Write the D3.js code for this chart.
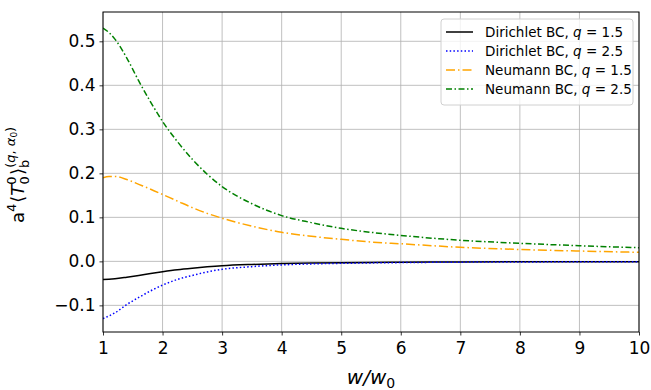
<!DOCTYPE html>
<html><head><meta charset="utf-8">
<script src="https://cdn.jsdelivr.net/npm/d3@7"></script>
<style>body{margin:0;background:#fff}svg{display:block}text{font-family:"DejaVu Sans",sans-serif}</style>
</head><body><svg id="c" width="651" height="390"></svg>
<script>
const xs = [1, 1.1, 1.2, 1.4, 1.6, 1.8, 2, 2.25, 2.5, 2.75, 3, 3.5, 4, 4.5, 5, 5.5, 6, 7, 8, 9, 10];
const dirichlet15 = [-0.041,-0.0405,-0.0395,-0.036,-0.032,-0.0275,-0.0235,-0.019,-0.0155,-0.0125,-0.010,-0.007,-0.005,-0.0038,-0.003,-0.0024,-0.002,-0.0014,-0.001,-0.0008,-0.0006];
const dirichlet25 = [-0.130,-0.124,-0.117,-0.098,-0.082,-0.067,-0.054,-0.041,-0.032,-0.024,-0.018,-0.012,-0.008,-0.0058,-0.0045,-0.0035,-0.0028,-0.0018,-0.0013,-0.001,-0.0008];
const neumann15 = [0.190,0.193,0.193,0.186,0.175,0.164,0.152,0.137,0.122,0.109,0.098,0.080,0.066,0.057,0.050,0.044,0.040,0.032,0.027,0.0235,0.0205];
const neumann25 = [0.530,0.520,0.505,0.462,0.410,0.362,0.318,0.272,0.232,0.198,0.170,0.131,0.104,0.088,0.075,0.066,0.059,0.048,0.041,0.0355,0.031];
const xTicks = [1,2,3,4,5,6,7,8,9,10];
const yTicks = [-0.1,0,0.1,0.2,0.3,0.4,0.5];
const seriesNames = ["Dirichlet BC", "Dirichlet BC", "Neumann BC", "Neumann BC"];
const seriesQ = ["1.5", "2.5", "1.5", "2.5"];
const seriesData = [dirichlet15, dirichlet25, neumann15, neumann25];
const colors = ["#000000", "#0000ff", "#ffa500", "#008000"];
const dashes = [null, "1.5,2.2", "9,3,1.5,3", "6,2.5,1.5,2.5"];

const svg = d3.select("#c");
const L=103, T=12, R=639, B=332;
const x = d3.scaleLinear().domain([1,10]).range([L,R]);
const y = d3.scaleLinear().domain([-0.1605,0.5666]).range([B,T]);

// grid
const g = svg.append("g");
g.selectAll(".gx").data(xTicks).enter().append("line")
 .attr("x1",d=>x(d)).attr("x2",d=>x(d)).attr("y1",T).attr("y2",B)
 .attr("stroke","#b0b0b0").attr("stroke-width",0.8);
g.selectAll(".gy").data(yTicks).enter().append("line")
 .attr("y1",d=>y(d)).attr("y2",d=>y(d)).attr("x1",L).attr("x2",R)
 .attr("stroke","#b0b0b0").attr("stroke-width",0.8);

// lines
const line = d3.line().x((d,i)=>x(xs[i])).y(d=>y(d)).curve(d3.curveMonotoneX);
svg.append("defs").append("clipPath").attr("id","clip").append("rect")
 .attr("x",L).attr("y",T).attr("width",R-L).attr("height",B-T);
seriesData.forEach((s,i)=>{
  svg.append("path").datum(s).attr("d",line).attr("fill","none")
   .attr("stroke",colors[i]).attr("stroke-width",1.5)
   .attr("stroke-dasharray",dashes[i]).attr("clip-path","url(#clip)");
});

// axes
const fmt = d=> d3.format(".1f")(d).replace("-","\u2212");
const xAxis = d3.axisBottom(x).tickValues(xTicks).tickSize(3.5).tickPadding(4).tickFormat(d3.format("d"));
const yAxis = d3.axisLeft(y).tickValues(yTicks).tickSize(3.5).tickPadding(4).tickFormat(fmt);
const ax = svg.append("g").attr("transform",`translate(0,${B})`).call(xAxis);
const ay = svg.append("g").attr("transform",`translate(${L},0)`).call(yAxis);
[ax,ay].forEach(a=>{
  a.select(".domain").remove();
  a.selectAll("line").attr("stroke","#000").attr("stroke-width",0.8);
  a.selectAll("text").attr("font-size",17).attr("font-family","DejaVu Sans").attr("fill","#000");
});
ax.selectAll("text").attr("dy","0.85em");
// frame
svg.append("rect").attr("x",L).attr("y",T).attr("width",R-L).attr("height",B-T)
 .attr("fill","none").attr("stroke","#000").attr("stroke-width",1);

// x label
const xl = svg.append("text").attr("x",(L+R)/2).attr("y",384).attr("text-anchor","middle").attr("font-size",20);
xl.append("tspan").attr("font-style","italic").text("w/w");
xl.append("tspan").attr("font-size",14).attr("dy",4).text("0");

// y label
const yl = svg.append("text").attr("transform","translate(24,223) rotate(-90)").attr("font-size",18);
yl.append("tspan").text("a");
yl.append("tspan").attr("font-size",13).attr("dy",-8).text("4");
yl.append("tspan").attr("dy",8).attr("dx",1).text("\u27E8");
yl.append("tspan").attr("font-style","italic").text("T");
yl.append("tspan").attr("font-size",13).attr("dy",-8).text("0");
yl.append("tspan").attr("font-size",13).attr("dy",13).attr("dx",-8).text("0");
yl.append("tspan").attr("dy",-5).attr("dx",1).text("\u27E9");
yl.append("tspan").attr("font-size",13).attr("dy",5).text("b");
yl.append("tspan").attr("font-size",13).attr("dy",-14).attr("dx",-8).text("(");
yl.append("tspan").attr("font-size",13).attr("font-style","italic").text("q");
yl.append("tspan").attr("font-size",13).text(", ");
yl.append("tspan").attr("font-size",13).attr("font-style","italic").text("\u03B1");
yl.append("tspan").attr("font-size",9).attr("dy",2).text("0");
yl.append("tspan").attr("font-size",13).attr("dy",-2).text(")");

// legend
const lg = svg.append("g");
lg.append("rect").attr("x",441).attr("y",19).attr("width",192).attr("height",86).attr("rx",3)
 .attr("fill","#fff").attr("fill-opacity",0.8).attr("stroke","#d0d0d0").attr("stroke-width",1);
seriesData.forEach((s,i)=>{
  const cy = 32 + i*19;
  lg.append("line").attr("x1",446).attr("x2",473).attr("y1",cy).attr("y2",cy)
   .attr("stroke",colors[i]).attr("stroke-width",1.5).attr("stroke-dasharray",dashes[i]);
  const t = lg.append("text").attr("x",485).attr("y",cy+5).attr("font-size",13.5);
  t.append("tspan").text(seriesNames[i]+", ");
  t.append("tspan").attr("font-style","italic").text("q");
  t.append("tspan").text(" = "+seriesQ[i]);
});
</script></body></html>
